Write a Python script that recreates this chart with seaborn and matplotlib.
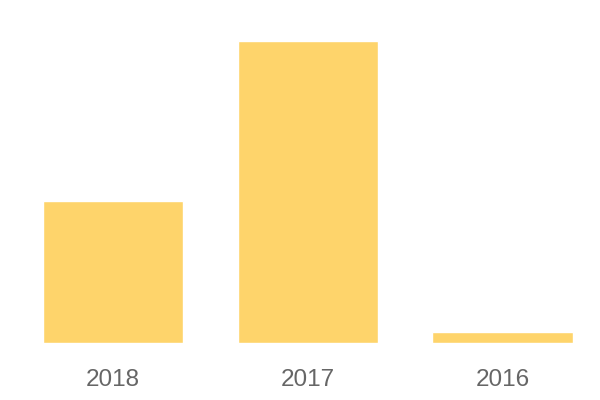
import matplotlib
matplotlib.use("Agg")
import matplotlib.pyplot as plt
import seaborn as sns
import pandas as pd

years = ["2018", "2017", "2016"]
values = [47, 100, 3.7]

sns.set_theme(style="white")
plt.rcParams['font.family'] = ['Liberation Sans', 'DejaVu Sans']

df = pd.DataFrame({"year": years, "value": values})

fig = plt.figure(figsize=(6, 4), dpi=100)
ax = fig.add_axes([0.026, 0.1425, 0.974, 0.7545])
sns.barplot(data=df, x="year", y="value", color="#FED46B", saturation=1,
            width=0.72, ax=ax, order=years)
ax.set_xlim(-0.5, 2.5)
ax.set_ylim(0, 100)
ax.set_xlabel("")
ax.set_ylabel("")
ax.set_yticks([])
ax.tick_params(axis="x", length=0, pad=19, labelsize=17.5, labelcolor="#666666")
for s in ax.spines.values():
    s.set_visible(False)
fig.savefig("out.png", dpi=100)
